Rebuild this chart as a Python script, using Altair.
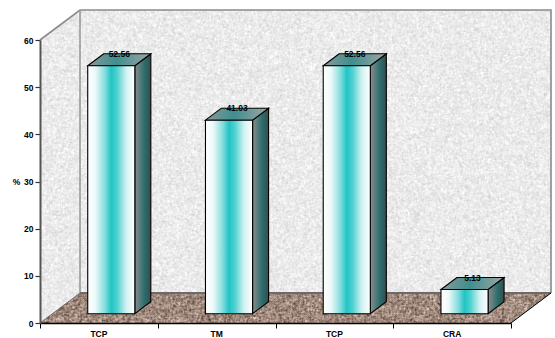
import base64
import struct
import zlib

import altair as alt
import numpy as np
import pandas as pd

categories = ["TCP", "TM", "TCP", "CRA"]
values = [52.56, 41.03, 52.56, 5.13]
y_ticks = [0, 10, 20, 30, 40, 50, 60]
x_ticks = [0, 1, 2, 3, 4]

# Oblique projection: one unit of depth shifts a point this far in data units.
DEPTH_X = 40 / 471 * 4
DEPTH_Y = 30 / 283 * 60
BAR_NEAR, BAR_FAR = 0.31, 0.71
BAR_HALF = 0.2
WIDTH, HEIGHT = 471, 283
FONT = "Liberation Sans"

x_scale = alt.Scale(domain=[0, 4], nice=False, zero=False)
y_scale = alt.Scale(domain=[0, 60], nice=False, zero=False)


def px(x, depth=0.0):
    return x + depth * DEPTH_X


def py(v, depth=0.0):
    return v + depth * DEPTH_Y


def png_uri(rgba):
    h, w = rgba.shape[:2]
    raw = b"".join(b"\x00" + rgba[r].tobytes() for r in range(h))

    def chunk(tag, body):
        crc = zlib.crc32(tag + body) & 0xFFFFFFFF
        return struct.pack(">I", len(body)) + tag + body + struct.pack(">I", crc)

    blob = (
        b"\x89PNG\r\n\x1a\n"
        + chunk(b"IHDR", struct.pack(">IIBBBBB", w, h, 8, 6, 0, 0, 0))
        + chunk(b"IDAT", zlib.compress(raw, 6))
        + chunk(b"IEND", b"")
    )
    return "data:image/png;base64," + base64.b64encode(blob).decode()


def speckle(rng, shape):
    """Lightly smoothed grain, scaled to unit variance."""
    n = rng.normal(size=shape)
    s = 2 * n
    for shift, axis in ((1, 0), (-1, 0), (1, 1), (-1, 1)):
        s = s + np.roll(n, shift, axis)
    return s / s.std()


def stone_backdrop():
    """Grainy stone walls and floor, transparent outside the box."""
    w, h = WIDTH + 40, HEIGHT + 30
    rng = np.random.default_rng(7)
    yy, xx = np.mgrid[0:h, 0:w]
    img = np.zeros((h, w, 4), dtype=np.uint8)
    grain = speckle(rng, (h, w))
    floor = (yy >= HEIGHT) & (xx >= (h - 1 - yy) * 40 / 30) & (xx <= WIDTH + (h - 1 - yy) * 40 / 30)
    back = (xx >= 40) & (yy < HEIGHT)
    side = (xx < 40) & (yy >= 30 - xx * 30 / 40) & (yy <= HEIGHT + 30 - xx * 30 / 40)
    wall = back | side
    wall_tone = 235 + grain * 7
    for c, tone in enumerate((158, 137, 124)):
        img[..., c][wall] = np.clip(wall_tone, 0, 255)[wall]
        img[..., c][floor] = np.clip(tone + grain * 22, 0, 255)[floor]
    img[..., 3][wall | floor] = 255
    return png_uri(img)


# Front plane coordinates of every bar, shared by all the faces.
bars = pd.DataFrame({"cat": categories, "value": values})
bars["i"] = range(len(bars))
bars["left"] = px(bars["i"] + 0.5 - BAR_HALF, BAR_NEAR)
bars["right"] = px(bars["i"] + 0.5 + BAR_HALF, BAR_NEAR)
bars["top"] = py(bars["value"], BAR_NEAR)
bars["base"] = py(0, BAR_NEAR)
bars["mid"] = px(bars["i"] + 0.5, (BAR_NEAR + BAR_FAR) / 2)
bars["label_y"] = py(bars["value"], BAR_FAR)
bars["cat_x"] = bars["i"] + 0.5
bars["cat_y"] = 0.0

side_rows, top_rows = [], []
for r in bars.itertuples():
    for depth in (BAR_NEAR, BAR_FAR):
        side_rows.append(
            {"i": r.i, "x": px(r.i + 0.5 + BAR_HALF, depth), "y": py(r.value, depth), "y2": py(0, depth)}
        )
        top_rows.append(
            {
                "i": r.i,
                "x": px(r.i + 0.5 - BAR_HALF, depth),
                "x2": px(r.i + 0.5 + BAR_HALF, depth),
                "y": py(r.value, depth),
            }
        )
sides = pd.DataFrame(side_rows)
tops = pd.DataFrame(top_rows)


def hgrad(stops):
    return alt.LinearGradient(
        gradient="linear",
        x1=0,
        x2=1,
        y1=0,
        y2=0,
        stops=[alt.GradientStop(offset=o, color=c) for o, c in stops],
    )


FRONT = hgrad([(0, "#ffffff"), (0.16, "#eef9f9"), (0.36, "#86dede"), (0.5, "#22c4c4"),
               (0.62, "#4ed0d0"), (0.82, "#d2f2f2"), (1, "#ffffff")])
SIDE = hgrad([(0, "#8c8c8c"), (0.6, "#2a6e6e"), (1, "#3a4a4a")])
TOP = hgrad([(0, "#8a9a9a"), (0.45, "#3f8e8e"), (1, "#a0a6a6")])

x_axis = alt.Axis(
    values=x_ticks, labels=False, grid=False, tickSize=5, tickColor="#000000",
    domainColor="#000000", domainWidth=1.5, tickWidth=1, zindex=1,
)
y_axis = alt.Axis(
    values=y_ticks, grid=False, tickSize=5, tickColor="#333333", tickWidth=1.2,
    domainColor="#555555", domainWidth=2, labelFont=FONT, labelFontSize=8.5,
    labelFontWeight="bold", labelColor="#000000", labelPadding=2,
    titleAngle=0, titleFont=FONT, titleFontSize=8.5, titleFontWeight="bold",
    titleColor="#000000", titleX=-24, titleY=146, titleAlign="center", zindex=1,
)


def X(field):
    return alt.X(field, type="quantitative", scale=x_scale, axis=x_axis, title=None)


def Y(field):
    return alt.Y(field, type="quantitative", scale=y_scale, axis=y_axis, title="%")


backdrop = (
    alt.Chart(pd.DataFrame({"x": [0.0], "y": [py(60, 1)], "url": [stone_backdrop()]}))
    .mark_image(align="left", baseline="top", width=WIDTH + 40, height=HEIGHT + 30)
    .encode(x=X("x"), y=Y("y"), url=alt.Url("url:N"))
)

# Edges of the box: each polyline is a list of (x, value, depth) corners.
edges = [
    ("wall", [(0, 60, 0), (0, 60, 1), (4, 60, 1), (4, 0, 1)], "#8a8a8a", 1.6),
    ("inner", [(0, 60, 1), (0, 0, 1)], "#9a9a9a", 1.6),
    ("floor_back", [(0, 0, 1), (4, 0, 1)], "#6a6a6a", 2.2),
    ("floor_left", [(0, 0, 0), (0, 0, 1)], "#777777", 1),
    ("floor_right", [(4, 0, 0), (4, 0, 1)], "#000000", 1),
]
edge_layers = []
for name, pts, color, sw in edges:
    df = pd.DataFrame(
        {"x": [px(p[0], p[2]) for p in pts], "y": [py(p[1], p[2]) for p in pts], "n": range(len(pts))}
    )
    edge_layers.append(
        alt.Chart(df)
        .mark_line(color=color, strokeWidth=sw, strokeJoin="miter")
        .encode(x=X("x"), y=Y("y"), order="n:Q")
    )

front_faces = (
    alt.Chart(bars)
    .mark_rect(color=FRONT, stroke="#000000", strokeWidth=1.1)
    .encode(x=X("left"), x2="right", y=Y("top"), y2="base", detail="i:N")
)
side_faces = (
    alt.Chart(sides)
    .mark_area(color=SIDE, stroke="#000000", strokeWidth=1.1, interpolate="linear")
    .encode(x=X("x"), y=Y("y"), y2="y2", detail="i:N")
)
top_faces = (
    alt.Chart(tops)
    .mark_area(color=TOP, stroke="#000000", strokeWidth=1.1, orient="horizontal", interpolate="linear")
    .encode(x=X("x"), x2="x2", y=Y("y"), detail="i:N")
)
value_labels = (
    alt.Chart(bars)
    .mark_text(font=FONT, fontSize=8.5, fontWeight="bold", color="#000000", baseline="middle")
    .encode(x=X("mid"), y=Y("label_y"), text=alt.Text("value:Q", format=".2f"))
)
cat_labels = (
    alt.Chart(bars)
    .mark_text(font=FONT, fontSize=8.5, fontWeight="bold", color="#000000", baseline="middle", dy=11)
    .encode(x=X("cat_x"), y=Y("cat_y"), text="cat:N")
)

chart = (
    alt.layer(backdrop, *edge_layers, side_faces, top_faces, front_faces, value_labels, cat_labels)
    .properties(
        width=WIDTH,
        height=HEIGHT,
        autosize=alt.AutoSizeParams(type="none"),
        padding={"left": 40, "top": 40, "right": 44, "bottom": 15},
        background="#ffffff",
    )
    .configure_view(stroke=None)
)

chart.save("out.html", embed_options={"renderer": "svg", "actions": False})
